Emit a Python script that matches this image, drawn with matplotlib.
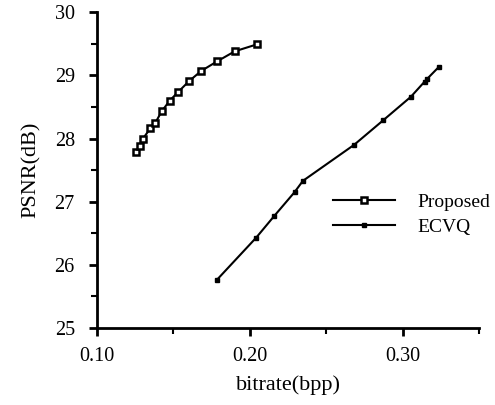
import numpy as np
import matplotlib
matplotlib.use("Agg")
import matplotlib.pyplot as plt
from matplotlib.ticker import MultipleLocator, FormatStrFormatter

# Data
proposed_bpp = [0.1255, 0.1278, 0.1298, 0.1349, 0.1382, 0.1423, 0.1476,
                0.1528, 0.1603, 0.1682, 0.1785, 0.1901, 0.2046]
proposed_psnr = [27.79, 27.88, 27.99, 28.16, 28.25, 28.43, 28.60,
                 28.73, 28.91, 29.07, 29.22, 29.38, 29.49]

ecvq_bpp = [0.1783, 0.2041, 0.2158, 0.2292, 0.2347, 0.2682, 0.2873,
            0.3053, 0.3143, 0.3158, 0.3235]
ecvq_psnr = [25.76, 26.43, 26.77, 27.15, 27.33, 27.90, 28.29,
             28.66, 28.90, 28.94, 29.13]

plt.rcParams['font.family'] = ['Liberation Serif', 'DejaVu Serif']

fig = plt.figure(figsize=(4.95, 4.05), dpi=100)
ax = fig.add_axes([0.196, 0.190, 0.772, 0.780])

ax.plot(proposed_bpp, proposed_psnr, color='black', lw=1.5,
        marker='s', ms=5, mfc='white', mec='black', mew=1.8,
        label='Proposed')
ax.plot(ecvq_bpp, ecvq_psnr, color='black', lw=1.5,
        marker='s', ms=3.2, mfc='black', mec='black',
        label='ECVQ')

ax.set_xlim(0.10, 0.35)
ax.set_ylim(25, 30)
ax.xaxis.set_major_locator(MultipleLocator(0.10))
ax.xaxis.set_minor_locator(MultipleLocator(0.05))
ax.xaxis.set_major_formatter(FormatStrFormatter('%.2f'))
ax.yaxis.set_major_locator(MultipleLocator(1))
ax.yaxis.set_minor_locator(MultipleLocator(0.5))

for side in ('top', 'right'):
    ax.spines[side].set_visible(False)
for side in ('left', 'bottom'):
    ax.spines[side].set_linewidth(2)

ax.tick_params(which='major', direction='out', length=6, width=2,
               labelsize=14.5)
ax.tick_params(which='minor', direction='out', length=4, width=1.5)
ax.tick_params(axis='x', which='major', pad=8)
ax.tick_params(axis='y', which='major', pad=10)

ax.set_xlabel('bitrate(bpp)', fontsize=16, labelpad=6)
ax.set_ylabel('PSNR(dB)', fontsize=16, labelpad=10)

ax.legend(loc='upper left', bbox_to_anchor=(0.618, 0.427), frameon=False,
          fontsize=14, handlelength=3.2, handletextpad=1.15,
          labelspacing=0.4, borderaxespad=0, borderpad=0)

fig.savefig('out.png', dpi=100)
